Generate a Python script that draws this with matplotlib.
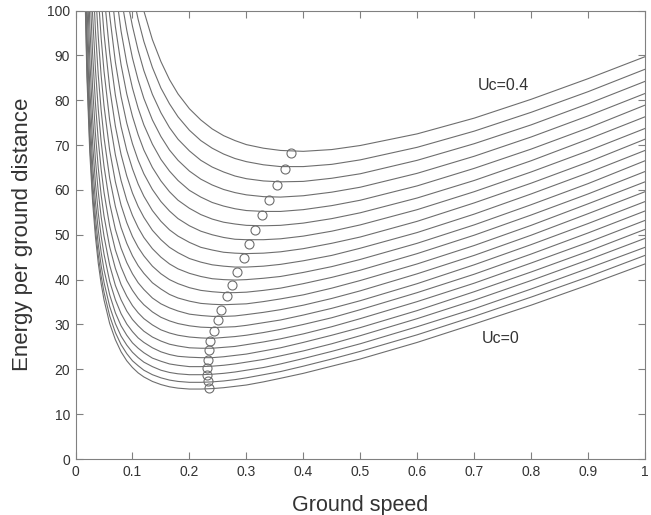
import numpy as np
import matplotlib
matplotlib.use('Agg')
import matplotlib.pyplot as plt

plt.rcParams['font.family'] = ['Liberation Sans', 'DejaVu Sans']

# Ground speed sample points (shared by all curves; each curve uses the last len(values) points)
ground_speed = [0.010, 0.015, 0.020, 0.025, 0.030, 0.035, 0.040, 0.045, 0.050, 0.060,
                0.070, 0.080, 0.090, 0.100, 0.110, 0.120, 0.135, 0.150, 0.165, 0.180,
                0.200, 0.220, 0.240, 0.260, 0.280, 0.300, 0.330, 0.360, 0.400, 0.450,
                0.500, 0.600, 0.700, 0.800, 0.900, 1.000]

uc_values = [0.00, 0.02, 0.04, 0.06, 0.08, 0.10, 0.12, 0.14, 0.16, 0.18, 0.20,
             0.22, 0.24, 0.26, 0.28, 0.30, 0.32, 0.34, 0.36, 0.38, 0.40]

# Energy per ground distance for each Uc
e_uc00 = [113.2, 85.2, 68.5, 57.4, 49.5, 43.6, 39.1, 35.5, 30.2, 26.6, 23.9, 21.9, 20.4, 19.2, 18.3, 17.3, 16.6, 16.1, 15.8, 15.6, 15.6, 15.7, 15.9, 16.2, 16.5, 17.2, 18.0, 19.1, 20.7, 22.3, 26.0, 30.1, 34.3, 38.8, 43.5]
e_uc02 = [115.5, 87.2, 70.4, 59.2, 51.3, 45.4, 40.8, 37.2, 31.9, 28.2, 25.5, 23.5, 21.9, 20.8, 19.8, 18.8, 18.1, 17.6, 17.3, 17.1, 17.1, 17.2, 17.4, 17.7, 18.1, 18.8, 19.5, 20.7, 22.3, 24.0, 27.7, 31.8, 36.1, 40.6, 45.4]
e_uc04 = [119.6, 90.7, 73.4, 62.0, 53.9, 47.8, 43.1, 39.4, 34.0, 30.2, 27.4, 25.4, 23.8, 22.6, 21.6, 20.6, 19.8, 19.3, 19.0, 18.8, 18.8, 18.9, 19.1, 19.4, 19.8, 20.4, 21.2, 22.4, 24.0, 25.7, 29.5, 33.5, 37.9, 42.5, 47.2]
e_uc06 = [125.7, 95.6, 77.6, 65.7, 57.3, 51.0, 46.1, 42.2, 36.6, 32.6, 29.7, 27.6, 25.9, 24.7, 23.7, 22.5, 21.8, 21.2, 20.9, 20.6, 20.6, 20.7, 20.9, 21.2, 21.6, 22.2, 23.0, 24.1, 25.7, 27.5, 31.3, 35.4, 39.8, 44.4, 49.2]
e_uc08 = [101.9, 83.0, 70.4, 61.5, 54.8, 49.7, 45.7, 39.6, 35.5, 32.4, 30.1, 28.4, 27.0, 26.0, 24.8, 23.9, 23.3, 22.9, 22.7, 22.6, 22.6, 22.8, 23.1, 23.4, 24.1, 24.8, 26.0, 27.6, 29.3, 33.1, 37.3, 41.7, 46.3, 51.2]
e_uc10 = [109.7, 89.5, 76.1, 66.6, 59.5, 54.0, 49.7, 43.2, 38.7, 35.5, 33.0, 31.1, 29.7, 28.5, 27.2, 26.3, 25.6, 25.2, 24.8, 24.7, 24.7, 24.9, 25.1, 25.5, 26.1, 26.8, 27.9, 29.5, 31.3, 35.1, 39.2, 43.7, 48.3, 53.2]
e_uc12 = [118.9, 97.2, 82.8, 72.5, 64.8, 58.9, 54.2, 47.3, 42.5, 38.9, 36.3, 34.2, 32.6, 31.3, 29.9, 28.8, 28.1, 27.6, 27.2, 27.0, 26.9, 27.1, 27.3, 27.6, 28.2, 28.9, 30.0, 31.5, 33.3, 37.1, 41.2, 45.7, 50.4, 55.3]
e_uc14 = [106.1, 90.4, 79.3, 71.0, 64.6, 59.5, 51.9, 46.6, 42.8, 39.8, 37.6, 35.8, 34.4, 32.8, 31.6, 30.8, 30.2, 29.7, 29.4, 29.3, 29.4, 29.5, 29.8, 30.4, 31.0, 32.1, 33.6, 35.3, 39.1, 43.3, 47.8, 52.5, 57.4]
e_uc16 = [116.2, 99.1, 86.9, 77.9, 70.8, 65.3, 57.0, 51.2, 47.0, 43.8, 41.3, 39.3, 37.8, 35.9, 34.6, 33.7, 33.0, 32.3, 32.0, 31.8, 31.8, 31.9, 32.2, 32.7, 33.3, 34.3, 35.8, 37.5, 41.3, 45.4, 49.9, 54.7, 59.6]
e_uc18 = [108.8, 95.5, 85.5, 77.8, 71.7, 62.6, 56.3, 51.6, 48.1, 45.3, 43.1, 41.4, 39.3, 37.9, 36.7, 35.9, 35.2, 34.7, 34.5, 34.4, 34.5, 34.6, 35.1, 35.7, 36.6, 38.1, 39.8, 43.5, 47.6, 52.1, 56.9, 61.8]
e_uc20 = [104.9, 94.0, 85.5, 78.8, 68.8, 61.8, 56.6, 52.7, 49.6, 47.2, 45.3, 43.0, 41.3, 40.0, 39.1, 38.2, 37.6, 37.3, 37.1, 37.1, 37.2, 37.6, 38.1, 39.1, 40.5, 42.1, 45.8, 49.9, 54.4, 59.1, 64.1]
e_uc22 = [103.2, 93.9, 86.5, 75.5, 67.8, 62.1, 57.7, 54.3, 51.6, 49.4, 46.9, 45.0, 43.5, 42.4, 41.4, 40.7, 40.2, 40.0, 39.9, 40.0, 40.3, 40.7, 41.6, 42.9, 44.5, 48.1, 52.2, 56.7, 61.4, 66.5]
e_uc24 = [103.0, 94.9, 82.7, 74.2, 67.9, 63.1, 59.3, 56.3, 53.9, 51.0, 48.9, 47.2, 46.0, 44.7, 43.9, 43.3, 43.0, 42.8, 42.8, 43.0, 43.4, 44.2, 45.4, 47.0, 50.5, 54.6, 59.1, 63.8, 68.8]
e_uc26 = [103.9, 90.5, 81.1, 74.1, 68.8, 64.7, 61.3, 58.6, 55.4, 53.0, 51.1, 49.7, 48.3, 47.2, 46.6, 46.1, 45.9, 45.8, 45.9, 46.2, 46.9, 48.1, 49.5, 53.0, 57.1, 61.5, 66.2, 71.3]
e_uc28 = [113.6, 98.9, 88.5, 80.8, 74.9, 70.3, 66.6, 63.6, 60.1, 57.4, 55.3, 53.6, 52.0, 50.8, 50.0, 49.4, 49.0, 48.9, 48.9, 49.1, 49.7, 50.8, 52.2, 55.6, 59.6, 64.0, 68.7, 73.7]
e_uc30 = [108.0, 96.4, 87.9, 81.4, 76.4, 72.3, 68.9, 65.0, 62.0, 59.6, 57.7, 55.9, 54.5, 53.5, 52.8, 52.4, 52.1, 52.0, 52.1, 52.6, 53.6, 54.9, 58.2, 62.1, 66.5, 71.3, 76.3]
e_uc32 = [105.0, 95.4, 88.3, 82.7, 78.2, 74.5, 70.2, 66.8, 64.2, 62.1, 59.9, 58.4, 57.2, 56.4, 55.8, 55.4, 55.2, 55.2, 55.6, 56.5, 57.7, 60.9, 64.8, 69.1, 73.8, 78.9]
e_uc34 = [103.0, 95.6, 89.4, 84.5, 80.4, 75.6, 71.9, 68.9, 66.6, 64.2, 62.4, 61.1, 60.1, 59.4, 58.9, 58.5, 58.4, 58.7, 59.5, 60.6, 63.7, 67.5, 71.8, 76.5, 81.5]
e_uc36 = [103.0, 96.5, 91.1, 86.6, 81.3, 77.2, 73.9, 71.3, 68.7, 66.6, 65.1, 64.0, 63.1, 62.5, 62.0, 61.8, 61.9, 62.6, 63.6, 66.6, 70.3, 74.5, 79.2, 84.2]
e_uc38 = [104.0, 98.0, 93.1, 87.3, 82.7, 79.2, 76.3, 73.3, 71.0, 69.3, 68.0, 67.0, 66.3, 65.6, 65.2, 65.2, 65.7, 66.7, 69.5, 73.1, 77.3, 81.9, 86.9]
e_uc40 = [105.0, 99.9, 93.5, 88.6, 84.6, 81.4, 78.1, 75.6, 73.6, 72.1, 71.0, 70.1, 69.3, 68.8, 68.6, 69.0, 69.9, 72.5, 76.0, 80.2, 84.8, 89.7]

curves = [e_uc00, e_uc02, e_uc04, e_uc06, e_uc08, e_uc10, e_uc12, e_uc14, e_uc16, e_uc18, e_uc20,
          e_uc22, e_uc24, e_uc26, e_uc28, e_uc30, e_uc32, e_uc34, e_uc36, e_uc38, e_uc40]

# Minimum-energy points (circles), Uc = 0 ... 0.4
min_speed = [0.235, 0.233, 0.231, 0.231, 0.233, 0.235, 0.237, 0.243, 0.250, 0.256, 0.266,
             0.275, 0.284, 0.296, 0.305, 0.316, 0.328, 0.339, 0.353, 0.367, 0.379]
min_energy = [15.8, 17.3, 18.8, 20.4, 22.1, 24.2, 26.4, 28.6, 30.9, 33.3, 36.3,
              38.9, 41.8, 44.8, 47.9, 51.0, 54.4, 57.7, 61.2, 64.7, 68.2]

x_ticks = [0, 0.1, 0.2, 0.3, 0.4, 0.5, 0.6, 0.7, 0.8, 0.9, 1.0]
x_tick_labels = ['0', '0.1', '0.2', '0.3', '0.4', '0.5', '0.6', '0.7', '0.8', '0.9', '1']
y_ticks = [0, 10, 20, 30, 40, 50, 60, 70, 80, 90, 100]

line_color = '#6e6e6e'
text_color = '#333333'

fig = plt.figure(figsize=(6.51, 5.15), dpi=100)
ax = fig.add_axes([0.116, 0.1087, 0.8748, 0.8709])

for vals in curves:
    xv = ground_speed[len(ground_speed) - len(vals):]
    ax.plot(xv, vals, color=line_color, lw=0.8)

ax.plot(min_speed, min_energy, 'o', ms=6.5, mfc='none', mec=line_color, mew=0.8)

ax.set_xlim(0, 1)
ax.set_ylim(0, 100)
ax.set_xticks(x_ticks)
ax.set_xticklabels(x_tick_labels)
ax.set_yticks(y_ticks)
ax.tick_params(direction='in', top=True, right=True, length=5, color='#808080',
               labelsize=10, labelcolor=text_color, pad=4)
for sp in ax.spines.values():
    sp.set_color('#808080')

ax.set_xlabel('Ground speed', fontsize=15.5, color=text_color, labelpad=12)
ax.set_ylabel('Energy per ground distance', fontsize=16, color=text_color, labelpad=10)
ax.text(0.7055, 83.3, 'Uc=0.4', fontsize=11.5, color=text_color, va='center')
ax.text(0.713, 26.8, 'Uc=0', fontsize=11.5, color=text_color, va='center')

fig.savefig('out.png', dpi=100)
